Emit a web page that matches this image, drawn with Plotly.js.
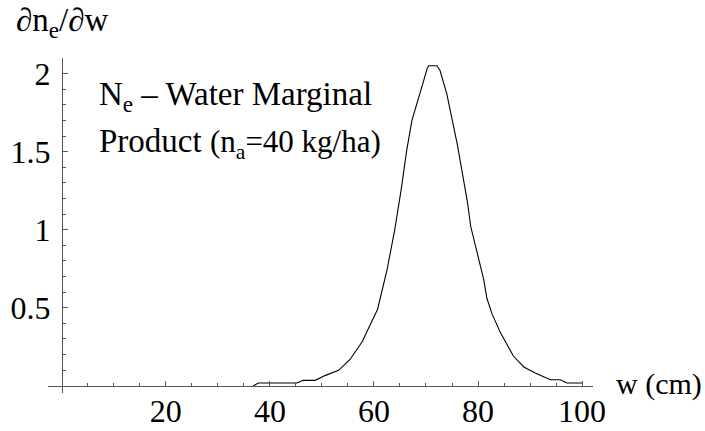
<!DOCTYPE html>
<html>
<head>
<meta charset="utf-8">
<script src="https://cdn.plot.ly/plotly-3.0.1.min.js"></script>
<style>html,body{margin:0;padding:0;background:#fff;}#chart{width:705px;height:431px;}</style>
</head>
<body>
<div id="chart"></div>
<script>
// Data (w in cm, dn_e/dw)
const wValues = [36.8, 37.8, 45.2, 46.4, 48.7, 50.7, 53.2, 55.4, 57.7, 58.9, 60.7, 62.5, 64.0, 65.2, 66.3, 67.3, 68.6, 69.6, 70.2, 70.5, 72.1, 72.7, 74.0, 75.0, 76.0, 77.0, 78.0, 78.6, 79.8, 81.1, 81.7, 82.7, 84.3, 86.8, 88.8, 91.0, 93.9, 95.8, 97.1, 100.0];
const dneValues = [0, 0.017, 0.017, 0.034, 0.034, 0.066, 0.098, 0.168, 0.28, 0.36, 0.49, 0.74, 1.0, 1.25, 1.51, 1.70, 1.84, 1.96, 2.03, 2.05, 2.05, 2.02, 1.87, 1.72, 1.55, 1.36, 1.17, 1.02, 0.85, 0.68, 0.56, 0.46, 0.34, 0.19, 0.12, 0.081, 0.038, 0.038, 0.017, 0.017];

const xTickVals = [20, 40, 60, 80, 100];
const xTickText = ['20', '40', '60', '80', '100'];
const xMinorVals = [5, 10, 15, 25, 30, 35, 45, 50, 55, 65, 70, 75, 85, 90, 95];
const yTickVals = [0.5, 1, 1.5, 2];
const yTickText = ['0.5', '1', '1.5', '2'];
const yMinorVals = [0.1, 0.2, 0.3, 0.4, 0.6, 0.7, 0.8, 0.9, 1.1, 1.2, 1.3, 1.4, 1.6, 1.7, 1.8, 1.9];

const xRange = [-2.65, 102.1];
const yRange = [-0.047, 2.1];

const W = 705, H = 431;
const M = {l: 48, r: 112, t: 58, b: 38};
const pw = W - M.l - M.r, ph = H - M.t - M.b;
const xp = px => (px - M.l) / pw;
const yp = py => 1 - (py - M.t) / ph;

const serif = 'Liberation Serif';
const axisColor = '#555';

const trace = {
  x: wValues, y: dneValues, type: 'scatter', mode: 'lines',
  line: {color: '#000', width: 1.1}, hoverinfo: 'skip', showlegend: false
};

const layout = {
  width: W, height: H,
  margin: M,
  paper_bgcolor: '#fff', plot_bgcolor: '#fff',
  showlegend: false,
  font: {family: serif, color: '#000'},
  xaxis: {
    range: xRange, domain: [0, 1],
    anchor: 'free', position: (0 - yRange[0]) / (yRange[1] - yRange[0]),
    showgrid: false, zeroline: false,
    showline: true, linecolor: axisColor, linewidth: 1,
    tickmode: 'array', tickvals: xTickVals, ticktext: xTickText,
    ticks: 'inside', ticklen: 5, tickcolor: axisColor, tickwidth: 1,
    minor: {tickmode: 'array', tickvals: xMinorVals, ticks: 'inside', ticklen: 3, tickcolor: axisColor, tickwidth: 1, showgrid: false},
    tickfont: {family: serif, size: 32, color: '#000'},
    ticklabelstandoff: -3
  },
  yaxis: {
    range: yRange, domain: [0, 1],
    anchor: 'free', position: (0 - xRange[0]) / (xRange[1] - xRange[0]),
    showgrid: false, zeroline: false,
    showline: true, linecolor: axisColor, linewidth: 1,
    tickmode: 'array', tickvals: yTickVals, ticktext: yTickText,
    ticks: 'inside', ticklen: 5, tickcolor: axisColor, tickwidth: 1,
    minor: {tickmode: 'array', tickvals: yMinorVals, ticks: 'inside', ticklen: 3, tickcolor: axisColor, tickwidth: 1, showgrid: false},
    tickfont: {family: serif, size: 32, color: '#000'},
    ticklabelstandoff: 5
  },
  annotations: [
    {text: '∂n<sub>e</sub>/∂w', xref: 'paper', yref: 'paper', x: xp(14), y: yp(22),
     xanchor: 'left', yanchor: 'middle', showarrow: false, font: {family: serif, size: 33, color: '#000'}},
    {text: 'w (cm)', xref: 'paper', yref: 'paper', x: xp(614), y: yp(384),
     xanchor: 'left', yanchor: 'middle', showarrow: false, font: {family: serif, size: 30, color: '#000'}},
    {text: 'N<sub>e</sub> – Water Marginal', xref: 'paper', yref: 'paper', x: xp(97), y: yp(96),
     xanchor: 'left', yanchor: 'middle', showarrow: false, font: {family: serif, size: 33, color: '#000'}},
    {text: 'Product <span style="font-size:31px">(n<sub>a</sub>=40 kg/ha)</span>', xref: 'paper', yref: 'paper', x: xp(97), y: yp(143),
     xanchor: 'left', yanchor: 'middle', showarrow: false, font: {family: serif, size: 33, color: '#000'}}
  ]
};

Plotly.newPlot('chart', [trace], layout, {displayModeBar: false, staticPlot: true});
</script>
</body>
</html>
